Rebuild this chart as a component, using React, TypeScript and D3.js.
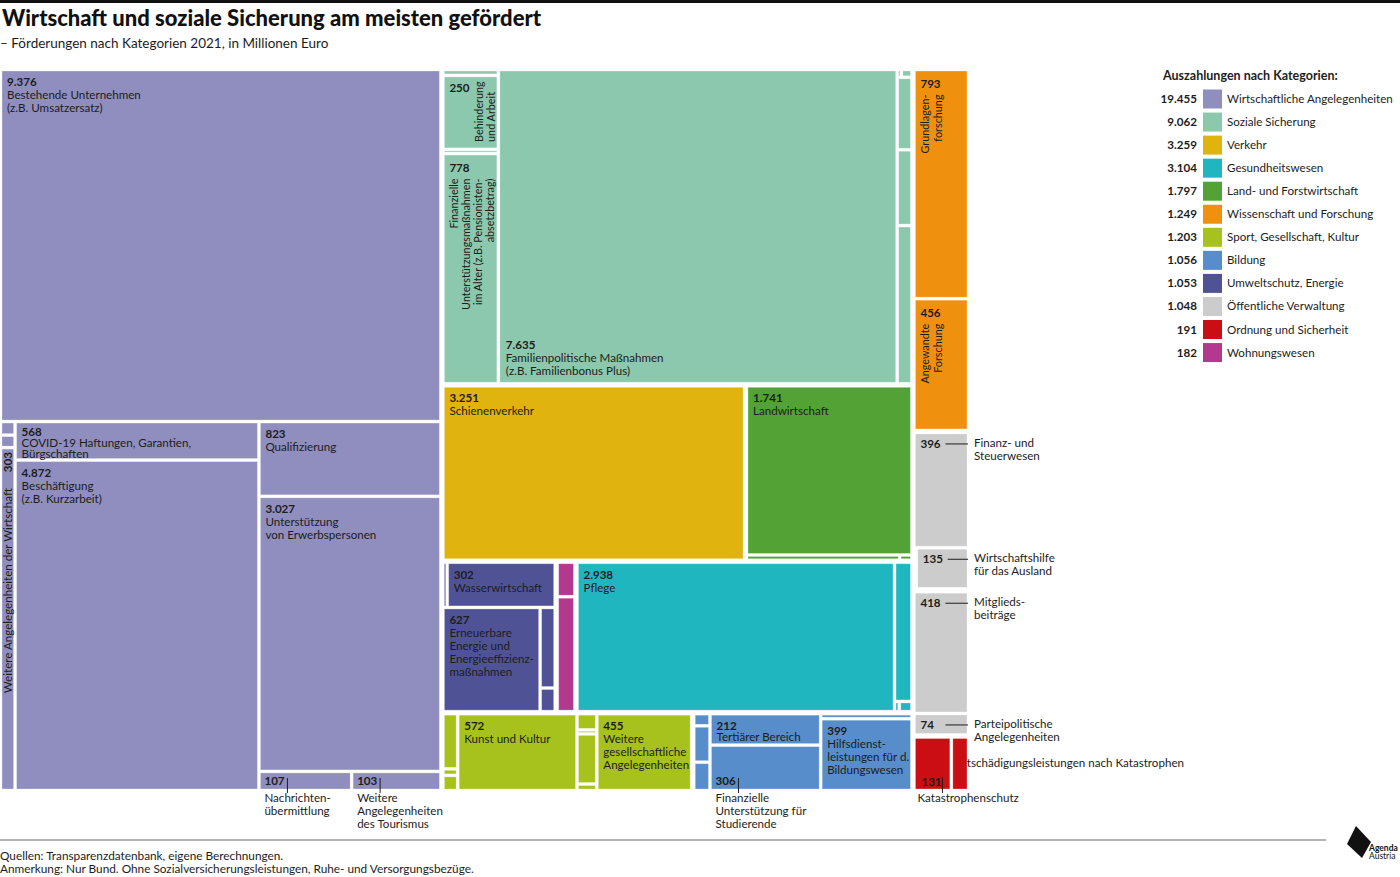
import React, { useMemo } from 'react';
import * as d3 from 'd3';

// ---------------- DATA ----------------
const categories = [
  'Wirtschaftliche Angelegenheiten',
  'Soziale Sicherung',
  'Verkehr',
  'Gesundheitswesen',
  'Land- und Forstwirtschaft',
  'Wissenschaft und Forschung',
  'Sport, Gesellschaft, Kultur',
  'Bildung',
  'Umweltschutz, Energie',
  'Öffentliche Verwaltung',
  'Ordnung und Sicherheit',
  'Wohnungswesen',
];
const categoryTotals = [19455, 9062, 3259, 3104, 1797, 1249, 1203, 1056, 1053, 1048, 191, 182];
const categoryColors = [
  '#8f8ebe', '#8cc8ad', '#e0b30f', '#20b6bf', '#52a236', '#f0900f',
  '#a7c21c', '#578dca', '#4f5396', '#cccccc', '#cb0e14', '#b3398f',
];

type Item = { id: string; value: number; label?: string[] };

const wirtschaftItems: Item[] = [
  { id: 'w_best', value: 9376, label: ['Bestehende Unternehmen', '(z.B. Umsatzersatz)'] },
  { id: 'w_s1', value: 12 },
  { id: 'w_s2', value: 11 },
  { id: 'w_weit', value: 303, label: ['Weitere Angelegenheiten der Wirtschaft'] },
  { id: 'w_covid', value: 568, label: ['COVID-19 Haftungen, Garantien,', 'Bürgschaften'] },
  { id: 'w_besch', value: 4872, label: ['Beschäftigung', '(z.B. Kurzarbeit)'] },
  { id: 'w_qual', value: 823, label: ['Qualifizierung'] },
  { id: 'w_unt', value: 3027, label: ['Unterstützung', 'von Erwerbspersonen'] },
  { id: 'w_nach', value: 107, label: ['Nachrichten-', 'übermittlung'] },
  { id: 'w_tour', value: 103, label: ['Weitere', 'Angelegenheiten', 'des Tourismus'] },
];
const sozialeItems: Item[] = [
  { id: 's_t1', value: 20 },
  { id: 's_beh', value: 250, label: ['Behinderung', 'und Arbeit'] },
  { id: 's_t2', value: 14 },
  { id: 's_fin', value: 778, label: ['Finanzielle', 'Unterstützungsmaßnahmen', 'im Alter (z.B. Pensionisten-', 'absetzbetrag)'] },
  { id: 's_fam', value: 7635, label: ['Familienpolitische Maßnahmen', '(z.B. Familienbonus Plus)'] },
  { id: 's_r1', value: 2 },
  { id: 's_r2', value: 5 },
  { id: 's_r3', value: 65 },
  { id: 's_r4', value: 68 },
  { id: 's_r5', value: 142 },
];
const verkehrItems: Item[] = [
  { id: 'v_sch', value: 3251, label: ['Schienenverkehr'] },
];
const gesundheitItems: Item[] = [
  { id: 'g_pfl', value: 2938, label: ['Pflege'] },
  { id: 'g_t1', value: 150 },
  { id: 'g_t2', value: 3 },
  { id: 'g_t3', value: 8 },
];
const landItems: Item[] = [
  { id: 'l_lw', value: 1741, label: ['Landwirtschaft'] },
  { id: 'l_t1', value: 50 },
  { id: 'l_t2', value: 4 },
];
const wissenschaftItems: Item[] = [
  { id: 'ws_gr', value: 793, label: ['Grundlagen-', 'forschung'] },
  { id: 'ws_ang', value: 456, label: ['Angewandte', 'Forschung'] },
];
const sportItems: Item[] = [
  { id: 'sp_1', value: 51 },
  { id: 'sp_2', value: 6 },
  { id: 'sp_3', value: 14 },
  { id: 'sp_kunst', value: 572, label: ['Kunst und Kultur'] },
  { id: 'sp_4', value: 20 },
  { id: 'sp_5', value: 5 },
  { id: 'sp_6', value: 62 },
  { id: 'sp_7', value: 8 },
  { id: 'sp_weit', value: 455, label: ['Weitere', 'gesellschaftliche', 'Angelegenheiten'] },
];
const bildungItems: Item[] = [
  { id: 'b_1', value: 12 },
  { id: 'b_2', value: 36 },
  { id: 'b_3', value: 28 },
  { id: 'b_ter', value: 212, label: ['Tertiärer Bereich'] },
  { id: 'b_fin', value: 306, label: ['Finanzielle', 'Unterstützung für', 'Studierende'] },
  { id: 'b_t', value: 28 },
  { id: 'b_hilf', value: 399, label: ['Hilfsdienst-', 'leistungen für d.', 'Bildungswesen'] },
];
const umweltItems: Item[] = [
  { id: 'u_t1', value: 12 },
  { id: 'u_was', value: 302, label: ['Wasserwirtschaft'] },
  { id: 'u_ern', value: 627, label: ['Erneuerbare', 'Energie und', 'Energieeffizienz-', 'maßnahmen'] },
  { id: 'u_t2', value: 75 },
  { id: 'u_t3', value: 22 },
];
const verwaltungItems: Item[] = [
  { id: 'vw_fin', value: 396, label: ['Finanz- und', 'Steuerwesen'] },
  { id: 'vw_t1', value: 6 },
  { id: 'vw_wh', value: 135, label: ['Wirtschaftshilfe', 'für das Ausland'] },
  { id: 'vw_t2', value: 10 },
  { id: 'vw_mit', value: 418, label: ['Mitglieds-', 'beiträge'] },
  { id: 'vw_par', value: 74, label: ['Parteipolitische', 'Angelegenheiten'] },
];
const ordnungItems: Item[] = [
  { id: 'o_kat', value: 131, label: ['Katastrophenschutz'] },
  { id: 'o_ent', value: 60, label: ['Entschädigungsleistungen nach Katastrophen'] },
];
const wohnungItems: Item[] = [
  { id: 'h_1', value: 42 },
  { id: 'h_2', value: 140 },
];

const itemsByCategory = [
  wirtschaftItems, sozialeItems, verkehrItems, gesundheitItems, landItems, wissenschaftItems,
  sportItems, bildungItems, umweltItems, verwaltungItems, ordnungItems, wohnungItems,
];

// ---------------- LAYOUT STRUCTURE (nesting / split direction) ----------------
type Spec = string | any[];
const topLayout: Spec = [
  'h', 'cat:0',
  ['v', 'cat:1', ['h', 'cat:2', 'cat:4'], ['h', 'cat:8', 'cat:11', 'cat:3'], ['h', 'cat:6', 'cat:7']],
  ['v', 'cat:5', 'cat:9', 'cat:10'],
];
const categoryLayouts: Spec[] = [
  ['v', 'w_best', ['h', ['v', 'w_s1', 'w_s2', 'w_weit'], ['v', 'w_covid', 'w_besch'], ['v', 'w_qual', 'w_unt', ['h', 'w_nach', 'w_tour']]]],
  ['h', ['v', 's_t1', 's_beh', 's_t2', 's_fin'], 's_fam', ['v', ['h', 's_r1', 's_r2'], 's_r3', 's_r4', 's_r5']],
  ['v', 'v_sch'],
  ['h', 'g_pfl', ['v', 'g_t1', ['h', 'g_t2', 'g_t3']]],
  ['v', 'l_lw', ['h', 'l_t1', 'l_t2']],
  ['v', 'ws_gr', 'ws_ang'],
  ['h', ['v', 'sp_1', 'sp_2', 'sp_3'], 'sp_kunst', ['v', 'sp_4', 'sp_5', 'sp_6', 'sp_7'], 'sp_weit'],
  ['h', ['v', 'b_1', 'b_2', 'b_3'], ['v', 'b_ter', 'b_fin'], ['v', 'b_t', 'b_hilf']],
  ['v', ['h', 'u_t1', 'u_was'], ['h', 'u_ern', ['v', 'u_t2', 'u_t3']]],
  ['v', 'vw_fin', ['h', 'vw_t1', 'vw_wh'], 'vw_t2', 'vw_mit', 'vw_par'],
  ['h', 'o_kat', 'o_ent'],
  ['v', 'h_1', 'h_2'],
];

// label placement styles
type LabelStyle = { mode: string; lh?: number; top?: number };
const labelStyles: Record<string, LabelStyle> = {
  w_weit: { mode: 'rot303' },
  w_covid: { mode: 'tl', lh: 11, top: 12.5 },
  s_beh: { mode: 'rotStart' },
  s_fin: { mode: 'rotEnd' },
  ws_gr: { mode: 'rotEnd' },
  ws_ang: { mode: 'rotEnd' },
  s_fam: { mode: 'bl' },
  w_nach: { mode: 'below' },
  w_tour: { mode: 'below' },
  b_fin: { mode: 'below' },
  b_ter: { mode: 'tl', lh: 11 },
  vw_fin: { mode: 'right' },
  vw_wh: { mode: 'right' },
  vw_mit: { mode: 'right' },
  vw_par: { mode: 'right' },
  o_kat: { mode: 'kat' },
  o_ent: { mode: 'ent' },
};

// ---------------- HELPERS ----------------
interface TNode {
  dir?: string; children?: TNode[]; own: number; id?: string; cat: number;
  isCat?: boolean; inCat: boolean; item?: Item;
}
function sumLeaves(n: TNode): number {
  if (!n.children) return n.own;
  return d3.sum(n.children, sumLeaves);
}
function build(spec: Spec, cat: number, inCat: boolean): TNode {
  if (typeof spec === 'string') {
    if (spec.startsWith('cat:')) {
      const ci = +spec.slice(4);
      const node = build(categoryLayouts[ci], ci, true);
      node.isCat = true;
      node.own = Math.max(0, categoryTotals[ci] - sumLeaves(node));
      return node;
    }
    const item = itemsByCategory[cat].find((d) => d.id === spec)!;
    return { id: spec, own: item.value, cat, inCat, item };
  }
  const [dir, ...rest] = spec as any[];
  return { dir, own: 0, cat, inCat, children: rest.map((s) => build(s, cat, inCat)) };
}

function tile(parent: any, x0: number, y0: number, x1: number, y1: number) {
  const kids = parent.children;
  const tot = d3.sum(kids, (k: any) => k.value);
  if (parent.data.dir === 'h') {
    let x = x0;
    kids.forEach((k: any) => {
      k.y0 = y0; k.y1 = y1; k.x0 = x; x += ((x1 - x0) * k.value) / tot; k.x1 = x;
    });
  } else {
    let y = y0;
    kids.forEach((k: any) => {
      k.x0 = x0; k.x1 = x1; k.y0 = y; y += ((y1 - y0) * k.value) / tot; k.y1 = y;
    });
  }
}

const fmt = (v: number) => d3.format(',')(v).replace(/,/g, '.');
const FONT = 'Lato, "Open Sans", sans-serif';
const TXT = '#1d1d1b';
const FS = 11.6;

const OX = 2, OY = 71, W = 965, H = 718;

export default function App() {
  const leaves = useMemo(() => {
    const tree = build(topLayout, -1, false);
    const root = d3.hierarchy<TNode>(tree, (d) => d.children).sum((d) => d.own);
    d3.treemap<TNode>()
      .size([W, H])
      .tile(tile as any)
      .paddingInner((n) => (n.data.inCat ? 3 : 5))(root);
    return root.leaves() as any[];
  }, []);

  const bg: React.ReactNode[] = [];
  const labels: React.ReactNode[] = [];

  leaves.forEach((n) => {
    const item: Item = n.data.item;
    if (!item || !item.label) return;
    const x0 = n.x0 + OX, x1 = n.x1 + OX, y0 = n.y0 + OY, y1 = n.y1 + OY;
    const st = labelStyles[item.id] || { mode: 'tl' };
    const val = fmt(item.value);
    const lines = item.label;
    const key = item.id;
    const vStyle = { fontWeight: 700 } as any;
    switch (st.mode) {
      case 'tl': {
        const lh = st.lh || 13;
        const top = st.top || 15;
        labels.push(
          <g key={key}>
            <text x={x0 + 5} y={y0 + top} style={vStyle}>{val}</text>
            {lines.map((l, i) => <text key={i} x={x0 + 5} y={y0 + top + lh * (i + 1)}>{l}</text>)}
          </g>
        );
        break;
      }
      case 'bl': {
        const nL = lines.length;
        labels.push(
          <g key={key}>
            <text x={x0 + 6} y={y1 - 7 - 13 * nL} style={vStyle}>{val}</text>
            {lines.map((l, i) => <text key={i} x={x0 + 6} y={y1 - 7 - 13 * (nL - 1 - i)}>{l}</text>)}
          </g>
        );
        break;
      }
      case 'below': {
        labels.push(
          <g key={key}>
            <text x={x0 + 4} y={y1 - 4} style={vStyle}>{val}</text>
            <line x1={x0 + 27} x2={x0 + 27} y1={y1 - 11} y2={y1 + 4} stroke={TXT} strokeWidth={1} />
            {lines.map((l, i) => <text key={i} x={x0 + 4} y={y1 + 13 + 13 * i}>{l}</text>)}
          </g>
        );
        break;
      }
      case 'right': {
        labels.push(
          <g key={key}>
            <text x={x0 + 5} y={y0 + 14} style={vStyle}>{val}</text>
            <line x1={x0 + 30} x2={x1 + 1} y1={y0 + 10} y2={y0 + 10} stroke={TXT} strokeWidth={1} />
            {lines.map((l, i) => <text key={i} x={x1 + 7} y={y0 + 13 + 13 * i}>{l}</text>)}
          </g>
        );
        break;
      }
      case 'kat': {
        labels.push(
          <g key={key}>
            <text x={x0 + 6} y={y1 - 3} style={vStyle}>{val}</text>
            <line x1={x0 + 27} x2={x0 + 27} y1={y1 - 12} y2={y1 + 4} stroke={TXT} strokeWidth={1} />
            {lines.map((l, i) => <text key={i} x={x0 + 2} y={y1 + 13 + 13 * i}>{l}</text>)}
          </g>
        );
        break;
      }
      case 'ent': {
        bg.push(<text key={key} x={x0 + 1} y={y0 + 29}>{lines[0]}</text>);
        break;
      }
      case 'rot303': {
        const bx = (x0 + x1) / 2 + 4.5;
        labels.push(
          <g key={key}>
            <text transform={`translate(${bx},${y0 + 3}) rotate(-90)`} textAnchor="end" style={vStyle}>{val}</text>
            <text transform={`translate(${bx},${y0 + 39}) rotate(-90)`} textAnchor="end">{lines[0]}</text>
          </g>
        );
        break;
      }
      case 'rotStart': {
        labels.push(
          <g key={key}>
            <text x={x0 + 5} y={y0 + 15} style={vStyle}>{val}</text>
            {lines.map((l, i) => (
              <text key={i} transform={`translate(${x0 + 38.5 + 12.5 * i},${y1 - 6}) rotate(-90)`} fontSize={10.8}>{l}</text>
            ))}
          </g>
        );
        break;
      }
      case 'rotEnd': {
        const step = lines.length > 2 ? 11.8 : 13;
        labels.push(
          <g key={key}>
            <text x={x0 + 5} y={y0 + 16.5} style={vStyle}>{val}</text>
            {lines.map((l, i) => (
              <text key={i} transform={`translate(${x0 + 14 + step * i},${y0 + 23.5}) rotate(-90)`} textAnchor="end" fontSize={10.8}>{l}</text>
            ))}
          </g>
        );
        break;
      }
    }
  });

  const legendY0 = 99;
  const legendStep = 23.05;

  return (
    <svg width={1400} height={877} style={{ position: 'absolute', left: 0, top: 0, display: 'block', background: '#fff' }}
      fontFamily={FONT} fontSize={FS} fill={TXT}>
      <rect x={0} y={0} width={1400} height={3} fill="#111" />
      <text x={2} y={26} fontSize={22} fontWeight={900} fill="#111">Wirtschaft und soziale Sicherung am meisten gefördert</text>
      <text x={0} y={48} fontSize={13.5}>– Förderungen nach Kategorien 2021, in Millionen Euro</text>

      <g>{bg}</g>
      <g>
        {leaves.map((n, i) => (
          <rect key={i} x={n.x0 + OX} y={n.y0 + OY} width={Math.max(0, n.x1 - n.x0)} height={Math.max(0, n.y1 - n.y0)}
            fill={categoryColors[n.data.cat]} stroke="#ffffff" strokeOpacity={0.35} strokeWidth={0.8} />
        ))}
      </g>
      <g>{labels}</g>

      {/* legend */}
      <g>
        <text x={1163} y={80} fontSize={12.5} fontWeight={700}>Auszahlungen nach Kategorien:</text>
        {categories.map((c, i) => {
          const cy = legendY0 + legendStep * i;
          return (
            <g key={c}>
              <text x={1197} y={cy + 4} textAnchor="end" fontWeight={700}>{fmt(categoryTotals[i])}</text>
              <rect x={1203} y={cy - 9.5} width={19} height={19} fill={categoryColors[i]} />
              <text x={1227} y={cy + 4}>{c}</text>
            </g>
          );
        })}
      </g>

      {/* footer */}
      <line x1={0} x2={1326} y1={840} y2={840} stroke="#9a9a9a" strokeWidth={1.5} />
      <text x={0} y={860} fontSize={11.8}>Quellen: Transparenzdatenbank, eigene Berechnungen.</text>
      <text x={0} y={873} fontSize={11.8}>Anmerkung: Nur Bund. Ohne Sozialversicherungsleistungen, Ruhe- und Versorgungsbezüge.</text>
      <path d="M1356,826 L1371,842 L1362,858 L1347,844 Z" fill="#111" />
      <text x={1369} y={851} fontSize={8.5} fontWeight={700} fill="#111">Agenda</text>
      <text x={1369} y={859} fontSize={8.5} fill="#111">Austria</text>
    </svg>
  );
}
